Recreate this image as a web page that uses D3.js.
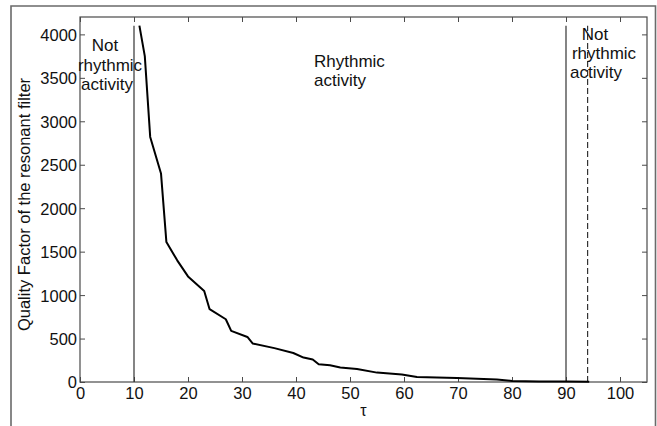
<!DOCTYPE html>
<html>
<head>
<meta charset="utf-8">
<script src="https://cdn.jsdelivr.net/npm/d3@7"></script>
<style>
  body { margin: 0; background: #fff; }
  svg { display: block; font-family: "Liberation Sans", Arial, sans-serif; }
</style>
</head>
<body>
<svg id="chart" width="657" height="426"></svg>
<script>
// Data
const tau = [11, 12, 13, 15, 16, 18, 20, 23, 24, 27, 28, 31, 32, 36, 39.5, 41.4, 43.1, 44.2, 46.3, 48.2, 51.3, 55, 59.6, 62.4, 69.8, 77.2, 80, 85, 90, 94.3];
const quality = [4100, 3750, 2820, 2400, 1610, 1400, 1215, 1048, 838, 722, 588, 518, 442, 390, 334, 281, 258, 204, 192, 166, 150, 108, 85, 58, 46, 28, 12, 7, 5, 3];
const xTicks = [0, 10, 20, 30, 40, 50, 60, 70, 80, 90, 100];
const yTicks = [0, 500, 1000, 1500, 2000, 2500, 3000, 3500, 4000];
const solidLines = [10, 90];
const dashedLines = [94];
const lineTop = 4100;

// Layout
const svg = d3.select('#chart');
const plot = { left: 80, top: 17, right: 647, bottom: 382 };
const fontSize = 16.5;

const x = d3.scaleLinear().domain([0, 105]).range([plot.left, plot.right]);
const y = d3.scaleLinear().domain([0, 4200]).range([plot.bottom, plot.top]);

// Outer frame (figure border)
svg.append('path')
  .attr('d', 'M11,426 V6 H655.5 V426')
  .attr('fill', 'none')
  .attr('stroke', '#6a6a6a')
  .attr('stroke-width', 1.6);

// Axes with inward ticks on all four sides
const tickLen = 5;
const axisColor = '#4a4a4a';
const fmt = d3.format('d');

const xBottom = svg.append('g').attr('transform', `translate(0,${plot.bottom})`)
  .call(d3.axisBottom(x).tickValues(xTicks).tickSize(-tickLen).tickFormat(fmt));
const xTop = svg.append('g').attr('transform', `translate(0,${plot.top})`)
  .call(d3.axisTop(x).tickValues(xTicks).tickSize(-tickLen).tickFormat(''));
const yLeft = svg.append('g').attr('transform', `translate(${plot.left},0)`)
  .call(d3.axisLeft(y).tickValues(yTicks).tickSize(-tickLen).tickFormat(fmt));
const yRight = svg.append('g').attr('transform', `translate(${plot.right},0)`)
  .call(d3.axisRight(y).tickValues(yTicks).tickSize(-tickLen).tickFormat(''));

[xBottom, xTop, yLeft, yRight].forEach(g => {
  g.select('.domain').remove();
  g.selectAll('line').attr('stroke', axisColor).attr('stroke-width', 1);
  g.selectAll('text')
    .attr('fill', '#111')
    .style('font-size', fontSize + 'px')
    .style('font-family', '"Liberation Sans", Arial, sans-serif');
});
xBottom.selectAll('text').attr('dy', null).attr('y', 17);
yLeft.selectAll('text').attr('x', -3).attr('dy', '0.36em');

// box
svg.append('rect')
  .attr('x', plot.left).attr('y', plot.top)
  .attr('width', plot.right - plot.left).attr('height', plot.bottom - plot.top)
  .attr('fill', 'none').attr('stroke', axisColor).attr('stroke-width', 1.2);

// Vertical boundary lines
svg.selectAll('.vsolid').data(solidLines).enter().append('line')
  .attr('class', 'vsolid')
  .attr('x1', d => x(d)).attr('x2', d => x(d))
  .attr('y1', y(0)).attr('y2', y(lineTop))
  .attr('stroke', '#333').attr('stroke-width', 1.2);

svg.selectAll('.vdash').data(dashedLines).enter().append('line')
  .attr('class', 'vdash')
  .attr('x1', d => x(d)).attr('x2', d => x(d))
  .attr('y1', y(0)).attr('y2', y(lineTop))
  .attr('stroke', '#333').attr('stroke-width', 1.2)
  .attr('stroke-dasharray', '6,3');

// Quality factor curve
const line = d3.line()
  .x((d, i) => x(tau[i]))
  .y(d => y(d));

svg.append('path')
  .datum(quality)
  .attr('d', line)
  .attr('fill', 'none')
  .attr('stroke', '#000')
  .attr('stroke-width', 2)
  .attr('stroke-linejoin', 'round');

// Region annotations
function label(lines, xs, ys, anchor) {
  lines.forEach((t, i) => {
    svg.append('text')
      .attr('x', xs[i]).attr('y', ys[i])
      .attr('text-anchor', anchor)
      .attr('fill', '#111')
      .style('font-size', '17px')
      .text(t);
  });
}
label(['Not', 'rhythmic', 'activity'], [105, 110, 107], [51, 71, 90], 'middle');
label(['Rhythmic', 'activity'], [314, 314], [67, 86], 'start');
label(['Not', 'rhythmic', 'activity'], [595, 604, 596], [40, 59, 78], 'middle');

// Axis titles
svg.append('text')
  .attr('transform', `translate(30,${(plot.top + plot.bottom) / 2 + 5}) rotate(-90)`)
  .attr('text-anchor', 'middle')
  .attr('fill', '#111')
  .style('font-size', fontSize + 'px')
  .text('Quality Factor of the resonant filter');

svg.append('text')
  .attr('x', (plot.left + plot.right) / 2)
  .attr('y', 416)
  .attr('text-anchor', 'middle')
  .attr('fill', '#111')
  .style('font-size', '16px')
  .text('τ');
</script>
</body>
</html>
